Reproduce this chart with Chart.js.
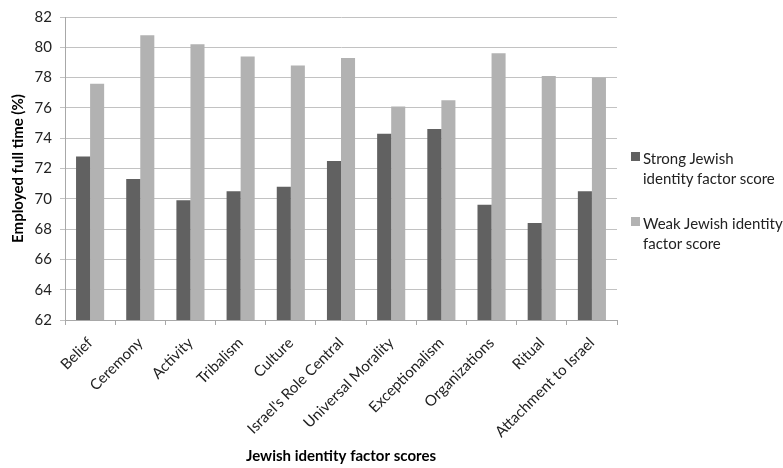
<!DOCTYPE html>
<html>
<head>
<meta charset="utf-8">
<script src="https://cdn.jsdelivr.net/npm/chart.js@4"></script>
<style>
  body { margin: 0; background: #fff; }
  #wrap { position: relative; width: 783px; height: 468px; }
  #legend { position: absolute; left: 631px; top: 148px; font-family: Lato, sans-serif; font-size: 15px; color: #222; }
  #legend .item { position: relative; padding-left: 12px; line-height: 20px; margin-bottom: 25px; width: 152px; }
  #legend .box { position: absolute; left: 0; top: 4px; width: 9px; height: 9px; }
</style>
</head>
<body>
<div id="wrap">
  <canvas id="myBarChart" width="783" height="468"></canvas>
  <div id="legend"></div>
</div>
<script>
// data
var factors = ['Belief', 'Ceremony', 'Activity', 'Tribalism', 'Culture', "Israel's Role Central",
    'Universal Morality', 'Exceptionalism', 'Organizations', 'Ritual', 'Attachment to Israel']
var strongScores = [72.8, 71.3, 69.9, 70.5, 70.8, 72.5, 74.3, 74.6, 69.6, 68.4, 70.5]
var weakScores = [77.6, 80.8, 80.2, 79.4, 78.8, 79.3, 76.1, 76.5, 79.6, 78.1, 78.0]
var seriesNames = ['Strong Jewish identity factor score', 'Weak Jewish identity factor score']
var yTicks = [62, 64, 66, 68, 70, 72, 74, 76, 78, 80, 82]

var barColors = ['#616161', '#b2b2b2']
var gridColor = '#c2c2c2'
var font = 'Lato, sans-serif'

var ctx = document.getElementById('myBarChart').getContext('2d');
var BarChart = new Chart(ctx, {
    type: 'bar',
    data: {
        labels: factors,
        datasets: [{
            label: seriesNames[0],
            data: strongScores,
            backgroundColor: barColors[0],
            categoryPercentage: 0.56,
            barPercentage: 1.0
        }, {
            label: seriesNames[1],
            data: weakScores,
            backgroundColor: barColors[1],
            categoryPercentage: 0.56,
            barPercentage: 1.0
        }]
    },
    options: {
        responsive: false,
        animation: false,
        layout: { padding: { left: 0, top: 13, right: 166, bottom: 0 } },
        plugins: {
            legend: { display: false },
            tooltip: { enabled: false }
        },
        scales: {
            x: {
                afterFit: function (scale) { scale.height = 148 },
                grid: { offset: true, drawOnChartArea: false, drawTicks: true, tickLength: 5, color: '#a8a8a8' },
                border: { color: '#a8a8a8' },
                ticks: {
                    minRotation: 45, maxRotation: 45, padding: 9,
                    color: '#222', font: { family: font, size: 15 }
                },
                title: {
                    display: true, text: 'Jewish identity factor scores',
                    color: '#000', font: { family: font, size: 15, weight: 'bold' },
                    padding: { top: 4, bottom: 3 }
                }
            },
            y: {
                min: yTicks[0],
                max: yTicks[yTicks.length - 1],
                afterFit: function (scale) { scale.width = 65 },
                afterBuildTicks: function (scale) { scale.ticks = yTicks.map(v => ({ value: v })) },
                grid: { color: gridColor, tickLength: 5 },
                border: { color: '#a8a8a8' },
                ticks: { color: '#222', padding: 8, font: { family: font, size: 15 } },
                title: {
                    display: true, text: 'Employed full time (%)',
                    color: '#000', font: { family: font, size: 15, weight: 'bold' },
                    padding: { top: 9, bottom: 2 }
                }
            }
        }
    }
})

// legend on the right, two lines per entry like the original
var legendBox = document.getElementById('legend')
var legendLines = [['Strong Jewish', 'identity factor score'], ['Weak Jewish identity', 'factor score']]
legendLines.forEach(function (lines, i) {
    var item = document.createElement('div')
    item.className = 'item'
    item.innerHTML = '<span class="box" style="background:' + barColors[i] + '"></span>' + lines.join('<br>')
    legendBox.appendChild(item)
})
</script>
</body>
</html>
